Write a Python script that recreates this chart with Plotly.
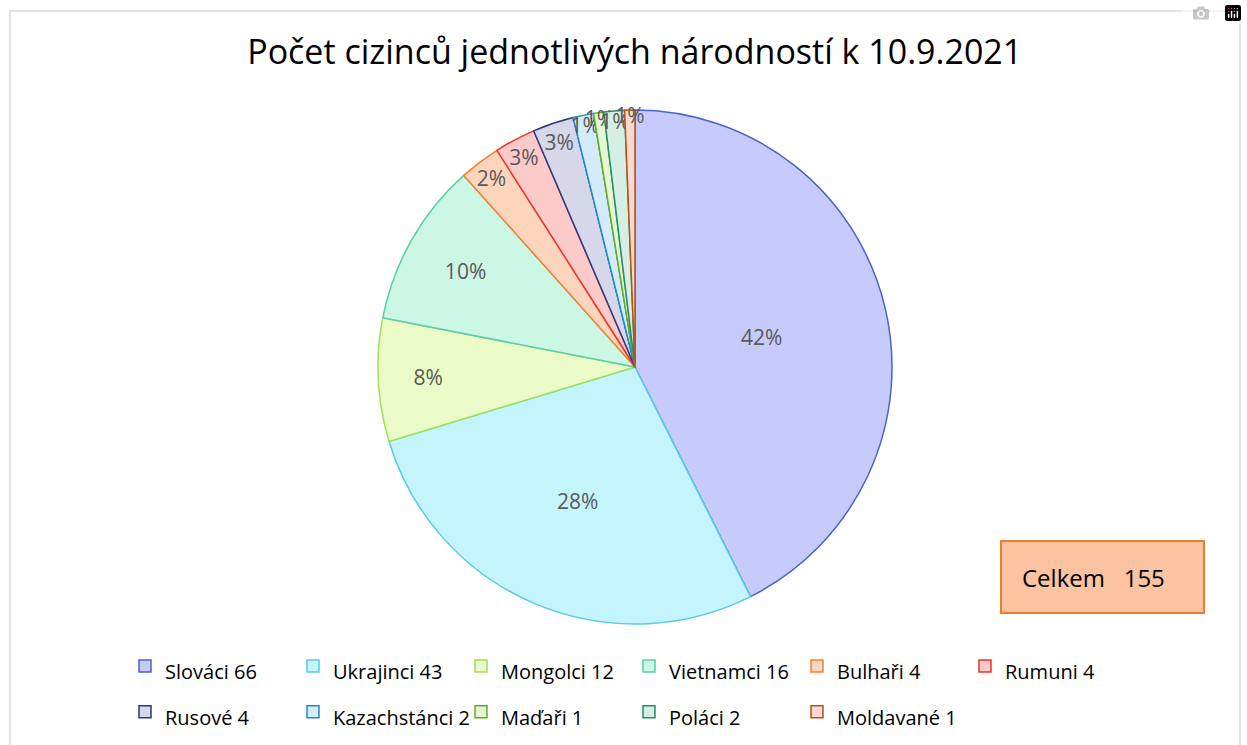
import plotly.graph_objects as go

categories = ["Slováci", "Ukrajinci", "Mongolci", "Vietnamci", "Bulhaři", "Rumuni",
              "Rusové", "Kazachstánci", "Maďaři", "Poláci", "Moldavané"]
counts = [66, 43, 12, 16, 4, 4, 4, 2, 1, 2, 1]
title_text = "Počet cizinců jednotlivých národností k 10.9.2021"

fill_colors = ["#c6cbfb", "#c4f5fc", "#ebfbc8", "#cbf7e4", "#fdd5bd", "#fdcaca",
               "#d6d8ea", "#d4ebfb", "#e2f7d2", "#d6efe4", "#fcd8cf"]
line_colors = ["#4a63c9", "#5bc8e8", "#9fe05a", "#5cccaa", "#f5802f", "#e8352a",
               "#2a3a80", "#1f8ec4", "#6aaa1e", "#2a8c6a", "#b25417"]

# percentages rounded to sum to 100 (largest remainder), as Excel labels do
total = sum(counts)
raw = [c * 100 / total for c in counts]
floors = [int(r) for r in raw]
rem = 100 - sum(floors)
order = sorted(range(len(raw)), key=lambda i: (raw[i] - floors[i], i), reverse=True)
pct = floors[:]
for i in order[:rem]:
    pct[i] += 1
pct_text = [f"{p}%" for p in pct]
legend_names = [f"{c} {n}" for c, n in zip(categories, counts)]
legend_labels = [f"<span style='font-size:20px'>{t}</span>" for t in legend_names]

W, H = 1247, 745
ML, MR = 0, 100          # right margin narrows the plot area so the legend wraps after 6 items
PW = W - ML - MR
cx, cy, r = 635, 367, 257


def px_x(x):
    return (x - ML) / PW


fig = go.Figure(go.Pie(
    labels=legend_labels,
    values=counts,
    text=pct_text,
    customdata=legend_names,
    textinfo="text",
    textposition="inside",
    insidetextorientation="horizontal",
    textfont=dict(family="Open Sans", size=21, color="#595959"),
    sort=False,
    direction="clockwise",
    rotation=0,
    marker=dict(colors=fill_colors, line=dict(color=line_colors, width=1.5)),
    domain=dict(x=[px_x(cx - r), px_x(cx + r)], y=[1 - (cy + r) / H, 1 - (cy - r) / H]),
    hovertemplate="%{customdata}<br>%{percent}<extra></extra>",
))

fig.update_layout(
    width=W, height=H,
    margin=dict(l=ML, r=MR, t=0, b=0, autoexpand=False),
    paper_bgcolor="white",
    font=dict(family="Open Sans", color="#000000"),
    uniformtext=dict(minsize=21, mode="show"),
    title=dict(text=title_text, x=0.509, xanchor="center", y=1 - 52 / H, yanchor="middle",
               font=dict(family="Open Sans", size=34, color="#000000")),
    legend=dict(orientation="h", x=px_x(125), xanchor="left", y=1 - 638 / H, yanchor="top",
                entrywidth=123, entrywidthmode="pixels",
                font=dict(family="Open Sans", size=33, color="#000000")),
    shapes=[dict(type="rect", xref="paper", yref="paper",
                 x0=px_x(10), x1=px_x(1240), y0=-0.05, y1=1 - 11 / H,
                 line=dict(color="#d9d9d9", width=1.5), fillcolor="rgba(0,0,0,0)", layer="below")],
    annotations=[dict(text=f"Celkem&nbsp;&nbsp;&nbsp;{total}", xref="paper", yref="paper",
                      x=px_x(1102), y=1 - 577 / H, xanchor="center", yanchor="middle",
                      showarrow=False, width=161, height=30, align="left",
                      font=dict(family="Open Sans", size=24, color="#000000"),
                      bgcolor="#fcc3a0", bordercolor="#f07c2c", borderwidth=2, borderpad=20)],
)

fig.write_html("out.html", post_script="document.body.style.margin='0px';")
